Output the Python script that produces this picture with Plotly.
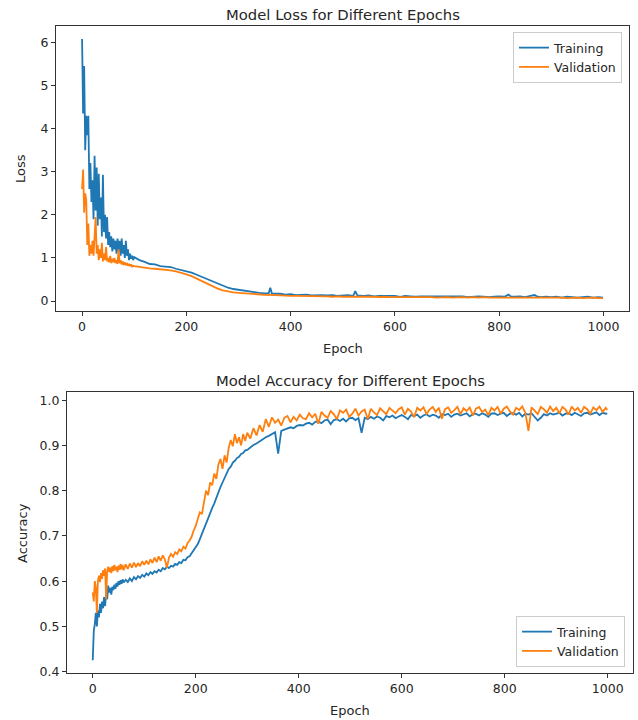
import plotly.graph_objects as go

# ---------------- data ----------------
loss_epochs = list(range(0, 100, 2)) + [
    100, 110, 120, 130, 140, 150, 160, 170, 180, 190,
    200, 210, 220, 230, 240, 250, 260, 270, 280, 290,
    300, 310, 320, 330, 340, 350, 358, 361, 364, 370,
    380, 390, 400, 410, 420, 430, 440, 450, 460, 470,
    480, 490, 500, 510, 520, 524, 528, 540, 550, 560,
    570, 580, 590, 600, 610, 620, 630, 640, 650, 660,
    670, 680, 690, 700, 710, 720, 730, 740, 750, 760,
    770, 780, 790, 800, 810, 818, 822, 830, 840, 850,
    860, 868, 872, 880, 890, 900, 910, 920, 930, 940,
    950, 960, 970, 980, 990, 999]

loss_train = [
    6.08, 4.35, 5.45, 3.50, 4.30, 3.85, 4.30, 2.60, 3.20, 2.30,
    2.80, 1.90, 3.37, 2.10, 3.10, 1.75, 2.95, 1.90, 2.40, 1.50,
    2.93, 1.60, 2.00, 1.45, 1.95, 1.30, 1.60, 1.25, 1.50, 1.15,
    1.45, 1.20, 1.40, 1.10, 1.45, 1.15, 1.40, 1.05, 1.45, 1.10,
    1.30, 1.00, 1.40, 1.05, 1.20, 0.95, 1.10, 0.98, 1.05, 0.95,
    1.02, 0.95, 0.91, 0.86, 0.85, 0.81, 0.80, 0.79, 0.75, 0.72,
    0.69, 0.66, 0.61, 0.56, 0.50, 0.45, 0.40, 0.35, 0.31, 0.28,
    0.26, 0.24, 0.22, 0.21, 0.19, 0.18, 0.18, 0.31, 0.18, 0.17,
    0.17, 0.15, 0.16, 0.14, 0.15, 0.15, 0.13, 0.14, 0.14, 0.13,
    0.14, 0.12, 0.13, 0.14, 0.12, 0.23, 0.13, 0.12, 0.13, 0.11,
    0.12, 0.12, 0.11, 0.12, 0.10, 0.12, 0.11, 0.10, 0.11, 0.11,
    0.10, 0.11, 0.10, 0.11, 0.10, 0.10, 0.11, 0.09, 0.10, 0.11,
    0.10, 0.09, 0.10, 0.11, 0.10, 0.15, 0.11, 0.10, 0.11, 0.09,
    0.12, 0.14, 0.11, 0.09, 0.10, 0.09, 0.10, 0.08, 0.10, 0.09,
    0.08, 0.09, 0.10, 0.08, 0.09, 0.08]

loss_val = [
    2.60, 3.05, 2.05, 2.50, 2.35, 1.30, 1.80, 1.05, 1.30, 1.10,
    1.40, 1.05, 1.50, 1.95, 1.10, 1.30, 0.95, 1.20, 1.00, 1.35,
    0.92, 1.10, 0.95, 1.25, 0.92, 1.00, 0.90, 1.05, 0.88, 0.98,
    0.90, 1.00, 0.88, 0.95, 0.86, 1.20, 0.88, 0.95, 0.85, 0.92,
    0.84, 0.90, 0.83, 0.88, 0.82, 0.86, 0.81, 0.85, 0.80, 0.82,
    0.81, 0.79, 0.77, 0.76, 0.75, 0.74, 0.73, 0.71, 0.69, 0.66,
    0.62, 0.58, 0.52, 0.46, 0.40, 0.34, 0.29, 0.25, 0.22, 0.20,
    0.19, 0.18, 0.17, 0.16, 0.15, 0.15, 0.14, 0.15, 0.14, 0.14,
    0.13, 0.13, 0.12, 0.12, 0.12, 0.11, 0.12, 0.11, 0.11, 0.11,
    0.10, 0.11, 0.10, 0.10, 0.10, 0.11, 0.10, 0.10, 0.11, 0.10,
    0.09, 0.10, 0.09, 0.09, 0.10, 0.09, 0.09, 0.10, 0.09, 0.09,
    0.09, 0.08, 0.09, 0.09, 0.08, 0.09, 0.09, 0.08, 0.09, 0.08,
    0.09, 0.08, 0.08, 0.09, 0.08, 0.09, 0.08, 0.08, 0.09, 0.08,
    0.08, 0.09, 0.08, 0.08, 0.08, 0.09, 0.08, 0.08, 0.07, 0.08,
    0.08, 0.07, 0.08, 0.08, 0.07, 0.07]

acc_epochs = (list(range(0, 61, 2)) + list(range(64, 301, 4))
              + list(range(306, 997, 6)) + [999])

acc_train = [
    0.425, 0.490, 0.505, 0.530, 0.500, 0.535, 0.520, 0.550, 0.530, 0.555,
    0.540, 0.565, 0.545, 0.575, 0.560, 0.590, 0.575, 0.585, 0.570, 0.588,
    0.580, 0.592, 0.583, 0.596, 0.588, 0.600, 0.592, 0.602, 0.594, 0.604,
    0.597,
    0.603, 0.598, 0.606, 0.600, 0.609, 0.604, 0.611, 0.607, 0.614, 0.610,
    0.617, 0.613, 0.620, 0.616, 0.622, 0.619, 0.625, 0.622, 0.629, 0.626,
    0.632, 0.629, 0.634, 0.632, 0.638, 0.636, 0.642, 0.640, 0.647, 0.646,
    0.653, 0.655, 0.662, 0.666, 0.674, 0.682, 0.693, 0.703, 0.716, 0.727,
    0.740, 0.750, 0.762, 0.772, 0.785, 0.795, 0.808, 0.818, 0.829, 0.838,
    0.848, 0.853, 0.862, 0.866, 0.872, 0.875, 0.881, 0.883, 0.889, 0.890,
    0.896, 0.901, 0.904, 0.909, 0.912, 0.918, 0.921, 0.926, 0.929, 0.882,
    0.932, 0.935, 0.937, 0.940, 0.938, 0.943, 0.945, 0.944, 0.948, 0.950,
    0.946, 0.952, 0.953, 0.949, 0.955, 0.957, 0.947, 0.956, 0.958, 0.954,
    0.959, 0.953, 0.960, 0.961, 0.956, 0.960, 0.928, 0.961, 0.958, 0.963,
    0.959, 0.964, 0.961, 0.955, 0.965, 0.962, 0.966, 0.960, 0.964, 0.967,
    0.963, 0.958, 0.967, 0.965, 0.968, 0.961, 0.966, 0.969, 0.964, 0.968,
    0.966, 0.961, 0.969, 0.967, 0.970, 0.963, 0.968, 0.970, 0.966, 0.969,
    0.971, 0.964, 0.969, 0.970, 0.966, 0.971, 0.968, 0.963, 0.970, 0.971,
    0.967, 0.970, 0.972, 0.965, 0.970, 0.971, 0.968, 0.972, 0.964, 0.970,
    0.968, 0.971, 0.962, 0.955, 0.961, 0.969, 0.966, 0.971, 0.968, 0.970,
    0.972, 0.966, 0.970, 0.971, 0.967, 0.972, 0.969, 0.965, 0.971, 0.972,
    0.968, 0.971, 0.973, 0.967, 0.972, 0.970,
    0.971]

acc_val = [
    0.575, 0.555, 0.600, 0.585, 0.530, 0.600, 0.612, 0.598, 0.618, 0.605,
    0.624, 0.612, 0.628, 0.560, 0.622, 0.632, 0.620, 0.630, 0.618, 0.633,
    0.622, 0.636, 0.624, 0.632, 0.620, 0.634, 0.625, 0.638, 0.626, 0.636,
    0.624,
    0.637, 0.627, 0.639, 0.630, 0.641, 0.631, 0.640, 0.633, 0.644, 0.636,
    0.645, 0.637, 0.648, 0.640, 0.652, 0.642, 0.655, 0.645, 0.657, 0.648,
    0.630, 0.652, 0.660, 0.654, 0.664, 0.660, 0.670, 0.666, 0.676, 0.672,
    0.684, 0.690, 0.698, 0.712, 0.722, 0.738, 0.752, 0.748, 0.775, 0.800,
    0.790, 0.818, 0.812, 0.838, 0.826, 0.858, 0.870, 0.848, 0.878, 0.862,
    0.895, 0.912, 0.898, 0.925, 0.905, 0.918, 0.900, 0.925, 0.910, 0.928,
    0.915, 0.938, 0.922, 0.945, 0.930, 0.958, 0.941, 0.962, 0.950, 0.957,
    0.944, 0.961, 0.965, 0.951, 0.963, 0.955, 0.968, 0.960, 0.958, 0.971,
    0.962, 0.970, 0.948, 0.974, 0.966, 0.961, 0.976, 0.969, 0.958, 0.977,
    0.972, 0.979, 0.963, 0.970, 0.981, 0.966, 0.975, 0.979, 0.958, 0.981,
    0.973, 0.967, 0.982, 0.976, 0.969, 0.983, 0.978, 0.971, 0.980, 0.984,
    0.968, 0.981, 0.975, 0.962, 0.983, 0.977, 0.984, 0.970, 0.979, 0.985,
    0.974, 0.983, 0.959, 0.980, 0.984, 0.972, 0.978, 0.985, 0.969, 0.982,
    0.976, 0.984, 0.966, 0.981, 0.985, 0.974, 0.979, 0.967, 0.983, 0.977,
    0.985, 0.970, 0.981, 0.986, 0.975, 0.968, 0.983, 0.978, 0.986, 0.972,
    0.932, 0.984, 0.977, 0.969, 0.985, 0.980, 0.972, 0.986, 0.976, 0.983,
    0.971, 0.985, 0.979, 0.968, 0.986, 0.977, 0.983, 0.972, 0.985, 0.980,
    0.970, 0.984, 0.978, 0.986, 0.974, 0.983,
    0.978]

series_names = ["Training", "Validation"]
titles = ["Model Loss for Different Epochs", "Model Accuracy for Different Epochs"]
loss_ticks = [0, 1, 2, 3, 4, 5, 6]
acc_ticks = [0.4, 0.5, 0.6, 0.7, 0.8, 0.9, 1.0]
epoch_ticks = [0, 200, 400, 600, 800, 1000]

# ---------------- styling ----------------
W, H = 638, 720
BLUE, ORANGE = "#1f77b4", "#ff7f0e"
FONT = "DejaVu Sans"
TXT = "#262626"
LW = 1.8

fig = go.Figure()
fig.add_trace(go.Scatter(x=loss_epochs, y=loss_train, mode="lines", name=series_names[0],
                         line=dict(color=BLUE, width=LW), xaxis="x", yaxis="y", legend="legend"))
fig.add_trace(go.Scatter(x=loss_epochs, y=loss_val, mode="lines", name=series_names[1],
                         line=dict(color=ORANGE, width=LW), xaxis="x", yaxis="y", legend="legend"))
fig.add_trace(go.Scatter(x=acc_epochs, y=acc_train, mode="lines", name=series_names[0],
                         line=dict(color=BLUE, width=LW), xaxis="x2", yaxis="y2", legend="legend2"))
fig.add_trace(go.Scatter(x=acc_epochs, y=acc_val, mode="lines", name=series_names[1],
                         line=dict(color=ORANGE, width=LW), xaxis="x2", yaxis="y2", legend="legend2"))

def px_x(p):
    return p / W

def px_y(p):
    return 1 - p / H

axis_common = dict(showline=True, mirror=True, linecolor="#333333", linewidth=1,
                   ticks="outside", ticklen=4, tickwidth=1, tickcolor="#333333",
                   showgrid=False, zeroline=False, automargin=False,
                   tickfont=dict(family=FONT, size=12.5, color=TXT))

top_l, top_r, top_t, top_b = 56, 629, 26, 311
bot_l, bot_r, bot_t, bot_b = 67, 633, 392, 673

fig.update_layout(
    width=W, height=H, margin=dict(l=0, r=0, t=0, b=0),
    paper_bgcolor="white", plot_bgcolor="white",
    font=dict(family=FONT, size=12, color=TXT),
    xaxis=dict(domain=[px_x(top_l), px_x(top_r)], anchor="y", range=[-50, 1049],
               tickvals=epoch_ticks, **axis_common),
    yaxis=dict(domain=[px_y(top_b), px_y(top_t)], anchor="x", range=[-0.23, 6.38],
               tickvals=loss_ticks, **axis_common),
    xaxis2=dict(domain=[px_x(bot_l), px_x(bot_r)], anchor="y2", range=[-50, 1049],
                tickvals=epoch_ticks, **axis_common),
    yaxis2=dict(domain=[px_y(bot_b), px_y(bot_t)], anchor="x2", range=[0.397, 1.018],
                tickvals=acc_ticks, tickformat=".1f", **axis_common),
    legend=dict(x=px_x(622), y=px_y(32), xanchor="right", yanchor="top",
                bgcolor="rgba(255,255,255,0.8)", bordercolor="#cccccc", borderwidth=1,
                font=dict(family=FONT, size=12.5, color=TXT), tracegroupgap=0),
    legend2=dict(x=px_x(625), y=px_y(667), xanchor="right", yanchor="bottom",
                 bgcolor="rgba(255,255,255,0.8)", bordercolor="#cccccc", borderwidth=1,
                 font=dict(family=FONT, size=12.5, color=TXT), tracegroupgap=0),
    showlegend=True,
)

ann = [
    dict(text=titles[0], x=px_x((top_l + top_r) / 2), y=px_y(14), size=14.8),
    dict(text=titles[1], x=px_x((bot_l + bot_r) / 2), y=px_y(380), size=14.8),
    dict(text="Epoch", x=px_x((top_l + top_r) / 2), y=px_y(348), size=13),
    dict(text="Epoch", x=px_x((bot_l + bot_r) / 2), y=px_y(710), size=13),
]
for a in ann:
    fig.add_annotation(text=a["text"], x=a["x"], y=a["y"], xref="paper", yref="paper",
                       xanchor="center", yanchor="middle", showarrow=False,
                       font=dict(family=FONT, size=a["size"], color=TXT))
fig.add_annotation(text="Loss", x=px_x(20), y=px_y(168), xref="paper", yref="paper",
                   xanchor="center", yanchor="middle", showarrow=False, textangle=-90,
                   font=dict(family=FONT, size=13, color=TXT))
fig.add_annotation(text="Accuracy", x=px_x(22), y=px_y(533), xref="paper", yref="paper",
                   xanchor="center", yanchor="middle", showarrow=False, textangle=-90,
                   font=dict(family=FONT, size=13, color=TXT))

fig.write_html("out.html")
